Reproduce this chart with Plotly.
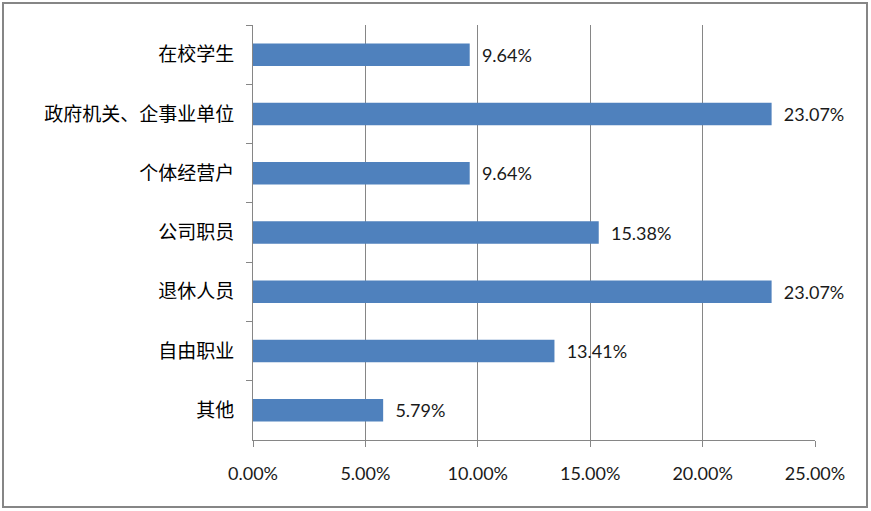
import plotly.graph_objects as go

categories = ["在校学生", "政府机关、企事业单位", "个体经营户", "公司职员", "退休人员", "自由职业", "其他"]
values = [0.0964, 0.2307, 0.0964, 0.1538, 0.2307, 0.1341, 0.0579]
x_ticks = [0, 0.05, 0.10, 0.15, 0.20, 0.25]
x_tick_labels = ["0.00%", "5.00%", "10.00%", "15.00%", "20.00%", "25.00%"]

W, H = 871, 511
L, R, T, B = 253, 56, 25, 71
pw, ph = W - L - R, H - T - B

num_font = "Lato, Liberation Sans, sans-serif"

fig = go.Figure(go.Bar(
    x=values, y=categories, orientation="h",
    marker=dict(color="#4F81BD", line=dict(width=0)),
    texttemplate="  %{x:.2%}", textposition="outside",
    textfont=dict(family=num_font, size=18, color="#1a1a1a"),
    cliponaxis=False,
))

grid = "#868686"
fig.update_layout(
    width=W, height=H,
    margin=dict(l=L, r=R, t=T, b=B, autoexpand=False),
    paper_bgcolor="white", plot_bgcolor="white",
    bargap=0.62, showlegend=False,
    xaxis=dict(range=[0, 0.25], tickvals=x_ticks, ticktext=x_tick_labels,
               showgrid=True, gridcolor=grid, gridwidth=1,
               showline=True, linecolor=grid, linewidth=1,
               ticks="outside", ticklen=6, tickcolor=grid,
               tickfont=dict(family=num_font, size=18, color="#1a1a1a"),
               ticklabelstandoff=11, zeroline=False, fixedrange=True),
    yaxis=dict(autorange="reversed", showgrid=False,
               showline=True, linecolor=grid, linewidth=1,
               ticks="outside", ticklen=6, tickcolor=grid, tickson="boundaries",
               tickfont=dict(family="Noto Sans CJK SC, sans-serif", size=19, color="#000000"),
               ticklabelstandoff=14, fixedrange=True),
    shapes=[dict(type="rect", xref="paper", yref="paper",
                 x0=(3 - L) / pw, x1=(867 - L) / pw,
                 y0=(T + ph - 507) / ph, y1=(T + ph - 3) / ph,
                 line=dict(color=grid, width=2), fillcolor="rgba(0,0,0,0)", layer="below")],
)

fig.write_html("out.html", config={"displayModeBar": False},
               post_script="document.body.style.margin='0';")
